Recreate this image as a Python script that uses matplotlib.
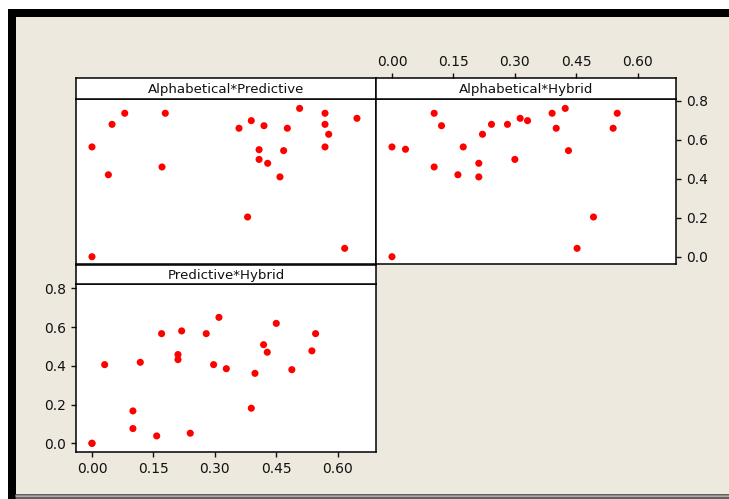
import matplotlib
matplotlib.use("Agg")
import matplotlib.pyplot as plt
from matplotlib.patches import Rectangle
from matplotlib.lines import Line2D

# ---- data ----
panel_titles = ["Alphabetical*Predictive", "Alphabetical*Hybrid", "Predictive*Hybrid"]
x_ticks = [0.00, 0.15, 0.30, 0.45, 0.60]
x_tick_labels = ["0.00", "0.15", "0.30", "0.45", "0.60"]
y_ticks = [0.0, 0.2, 0.4, 0.6, 0.8]
y_tick_labels = ["0.0", "0.2", "0.4", "0.6", "0.8"]

ap_x = [0.00, 0.00, 0.049, 0.080, 0.040, 0.179, 0.171, 0.359, 0.389, 0.420, 0.408, 0.408,
        0.429, 0.380, 0.459, 0.468, 0.477, 0.507, 0.569, 0.569, 0.578, 0.569, 0.617, 0.647]
ap_y = [0.564, 0.00, 0.680, 0.737, 0.421, 0.737, 0.461, 0.660, 0.699, 0.673, 0.550, 0.500,
        0.480, 0.204, 0.410, 0.545, 0.660, 0.762, 0.737, 0.680, 0.629, 0.564, 0.043, 0.711]

ah_x = [0.00, 0.00, 0.033, 0.103, 0.103, 0.121, 0.161, 0.174, 0.221, 0.212, 0.212, 0.243,
        0.282, 0.300, 0.313, 0.331, 0.391, 0.401, 0.423, 0.431, 0.452, 0.492, 0.540, 0.550]
ah_y = [0.564, 0.00, 0.552, 0.737, 0.461, 0.673, 0.421, 0.564, 0.629, 0.480, 0.410, 0.680,
        0.680, 0.500, 0.711, 0.699, 0.737, 0.660, 0.762, 0.545, 0.043, 0.204, 0.660, 0.737]

ph_x = [0.00, 0.00, 0.031, 0.100, 0.100, 0.118, 0.158, 0.170, 0.210, 0.210, 0.219, 0.240,
        0.279, 0.297, 0.310, 0.328, 0.389, 0.398, 0.419, 0.428, 0.450, 0.488, 0.537, 0.546]
ph_y = [0.00, 0.00, 0.406, 0.167, 0.076, 0.418, 0.038, 0.566, 0.458, 0.432, 0.580, 0.052,
        0.566, 0.406, 0.650, 0.385, 0.181, 0.361, 0.509, 0.470, 0.619, 0.380, 0.477, 0.566]

# ---- layout ----
W, H = 729, 499
fig = plt.figure(figsize=(W / 100, H / 100), dpi=100, facecolor="white")

def box(x0, y0, x1, y1):
    return [x0 / W, 1 - y1 / H, (x1 - x0) / W, (y1 - y0) / H]

BEIGE = "#EDE9DF"
# background frame (drawn beneath the axes)
fig.patches.append(Rectangle((16 / W, 0), 1 - 16 / W, 1 - 17 / H, transform=fig.transFigure,
                             facecolor=BEIGE, edgecolor="none", zorder=-5))
fig.patches.append(Rectangle((8 / W, 1 - 17 / H), 1 - 8 / W, 8 / H, transform=fig.transFigure,
                             facecolor="black", edgecolor="none", zorder=-4))
fig.patches.append(Rectangle((8 / W, 0), 8 / W, 1 - 9 / H, transform=fig.transFigure,
                             facecolor="black", edgecolor="none", zorder=-4))
for yy, c in [(494.5, "#3a3a3a"), (496.0, "#9a9a9a"), (497.5, "#3a3a3a")]:
    fig.lines.append(Line2D([16 / W, 1], [1 - yy / H, 1 - yy / H], transform=fig.transFigure,
                            color=c, linewidth=1.1, zorder=-3))

XLIM = (-0.039, 0.6935)
YLIM_TOP = (-0.039, 0.8118)
YLIM_BOT = (-0.0465, 0.8206)

def make_panel(plot_box, strip_box, title, xs, ys, ylim):
    ax = fig.add_axes(box(*plot_box))
    ax.set_facecolor("white")
    ax.scatter(xs, ys, s=26, color="#FF0000", edgecolors="none", zorder=3)
    ax.set_xlim(*XLIM)
    ax.set_ylim(*ylim)
    for sp in ax.spines.values():
        sp.set_linewidth(1.1)
        sp.set_color("black")
    st = fig.add_axes(box(*strip_box))
    st.set_facecolor("white")
    st.set_xticks([])
    st.set_yticks([])
    for sp in st.spines.values():
        sp.set_linewidth(1.1)
        sp.set_color("black")
    st.text(0.5, 0.45, title, ha="center", va="center", fontsize=9.6, color="#111111",
            transform=st.transAxes)
    return ax, st

ax_tl, st_tl = make_panel((76, 98.7, 376, 264.3), (76, 78.3, 376, 98.7), panel_titles[0], ap_x, ap_y, YLIM_TOP)
ax_tr, st_tr = make_panel((376, 98.7, 676, 264.3), (376, 78.3, 676, 98.7), panel_titles[1], ah_x, ah_y, YLIM_TOP)
ax_b, st_b = make_panel((76, 284.3, 376, 452.3), (76, 264.7, 376, 284.3), panel_titles[2], ph_x, ph_y, YLIM_BOT)

# top-left: no ticks
ax_tl.set_xticks([])
ax_tl.set_yticks([])

# top-right: ticks on right
ax_tr.set_xticks(x_ticks)
ax_tr.set_yticks(y_ticks)
ax_tr.set_yticklabels(y_tick_labels)
ax_tr.yaxis.set_ticks_position("right")
ax_tr.tick_params(length=3.5, width=1, labelsize=10, colors="#111111", direction="out")
ax_tr.xaxis.set_ticks_position("none")
ax_tr.tick_params(axis="x", labelbottom=False, labeltop=False)

# top x ticks drawn on the strip above the top-right panel
st_tr.set_xlim(*XLIM)
st_tr.set_xticks(x_ticks)
st_tr.set_xticklabels(x_tick_labels)
st_tr.xaxis.set_ticks_position("top")
st_tr.tick_params(axis="x", length=3.5, width=1, labelsize=10, colors="#111111", direction="out")

# bottom: ticks on left and bottom
ax_b.set_xticks(x_ticks)
ax_b.set_xticklabels(x_tick_labels)
ax_b.set_yticks(y_ticks)
ax_b.set_yticklabels(y_tick_labels)
ax_b.tick_params(length=3.5, width=1, labelsize=10, colors="#111111", direction="out")

fig.savefig("out.png", dpi=100, facecolor="white")
